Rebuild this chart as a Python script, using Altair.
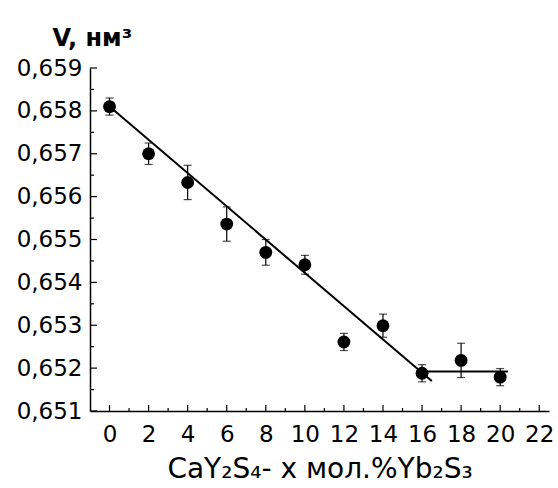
import altair as alt
import pandas as pd

# data
conc = [0, 2, 4, 6, 8, 10, 12, 14, 16, 18, 20]
volume = [0.6581, 0.6570, 0.65633, 0.65536, 0.65470, 0.65441, 0.65261, 0.65299, 0.65188, 0.65218, 0.65179]
error = [0.0002, 0.00025, 0.0004, 0.0004, 0.0003, 0.00022, 0.0002, 0.00027, 0.0002, 0.0004, 0.0002]

fit1_x = [0, 16.5]
fit1_y = [0.6581, 0.6517]
fit2_x = [16, 20.4]
fit2_y = [0.65192, 0.65192]

x_major = [0, 2, 4, 6, 8, 10, 12, 14, 16, 18, 20, 22]
x_minor = [1, 3, 5, 7, 9, 11, 13, 15, 17, 19, 21]
y_major = [0.651, 0.652, 0.653, 0.654, 0.655, 0.656, 0.657, 0.658, 0.659]
y_minor = [0.6515, 0.6525, 0.6535, 0.6545, 0.6555, 0.6565, 0.6575, 0.6585]

W, H = 459, 343
FONT = "DejaVu Sans"

pts = pd.DataFrame({"x": conc, "y": volume, "e": error})
pts["lo"] = pts["y"] - pts["e"]
pts["hi"] = pts["y"] + pts["e"]
caps = pd.DataFrame({"x": conc * 2, "y": list(pts["lo"]) + list(pts["hi"])})
fits = pd.DataFrame({
    "x": fit1_x + fit2_x,
    "y": fit1_y + fit2_y,
    "s": ["a", "a", "b", "b"],
})

xs = alt.Scale(domain=[-1, 22.5], nice=False, zero=False)
ys = alt.Scale(domain=[0.651, 0.659], nice=False, zero=False)

xaxis = alt.Axis(
    title="CaY₂S₄- x мол.%Yb₂S₃",
    values=x_major, grid=False, ticks=False, domainColor="black", domainWidth=1.5,
    labelFont=FONT, labelFontSize=23, labelColor="black", labelPadding=12,
    labelFlush=False, labelOverlap=False,
    titleFont=FONT, titleFontSize=28, titleFontWeight="normal", titleColor="black",
    titleY=66, titleBaseline="alphabetic",
)
yaxis = alt.Axis(
    title="V, нм³",
    values=y_major, grid=False, ticks=False, domainColor="black", domainWidth=1.5,
    labelExpr="replace(format(datum.value, '.3f'), '.', ',')",
    labelFont=FONT, labelFontSize=23, labelColor="black", labelPadding=8,
    labelFlush=False, labelOverlap=False,
    titleFont=FONT, titleFontSize=24, titleFontWeight="bold", titleColor="black",
    titleAngle=0, titleX=-38, titleY=-23, titleAlign="left", titleBaseline="alphabetic",
)

X = lambda f: alt.X(f"{f}:Q", scale=xs, axis=xaxis)
Y = lambda f: alt.Y(f"{f}:Q", scale=ys, axis=yaxis)

bars = alt.Chart(pts).mark_rule(color="black", strokeWidth=1.2).encode(
    x=X("x"), y=Y("lo"), y2="hi")
capm = alt.Chart(caps).mark_tick(color="black", orient="horizontal", size=8, thickness=1.2).encode(
    x=X("x"), y=Y("y"))
lines = alt.Chart(fits).mark_line(color="black", strokeWidth=2).encode(
    x=X("x"), y=Y("y"), detail="s:N")
dots = alt.Chart(pts).mark_circle(color="black", size=165, opacity=1).encode(
    x=X("x"), y=Y("y"))

xmaj = alt.Chart(pd.DataFrame({"x": x_major})).mark_rule(color="black", strokeWidth=1.2).encode(
    x=X("x"), y=alt.value(H), y2=alt.value(H - 6))
xmin = alt.Chart(pd.DataFrame({"x": x_minor})).mark_rule(color="black", strokeWidth=1.2).encode(
    x=X("x"), y=alt.value(H), y2=alt.value(H - 3))
ymaj = alt.Chart(pd.DataFrame({"y": y_major})).mark_rule(color="black", strokeWidth=1.2).encode(
    y=Y("y"), x=alt.value(0), x2=alt.value(7))
ymin = alt.Chart(pd.DataFrame({"y": y_minor})).mark_rule(color="black", strokeWidth=1.2).encode(
    y=Y("y"), x=alt.value(0), x2=alt.value(4))

chart = alt.layer(xmaj, xmin, ymaj, ymin, bars, capm, lines, dots).properties(
    width=W, height=H,
    autosize=alt.AutoSizeParams(type="none"),
    padding={"left": 90, "top": 68, "right": 9, "bottom": 77},
    background="white",
).configure_view(stroke=None)

chart.save("out.html", embed_options={"renderer": "svg", "actions": False})
